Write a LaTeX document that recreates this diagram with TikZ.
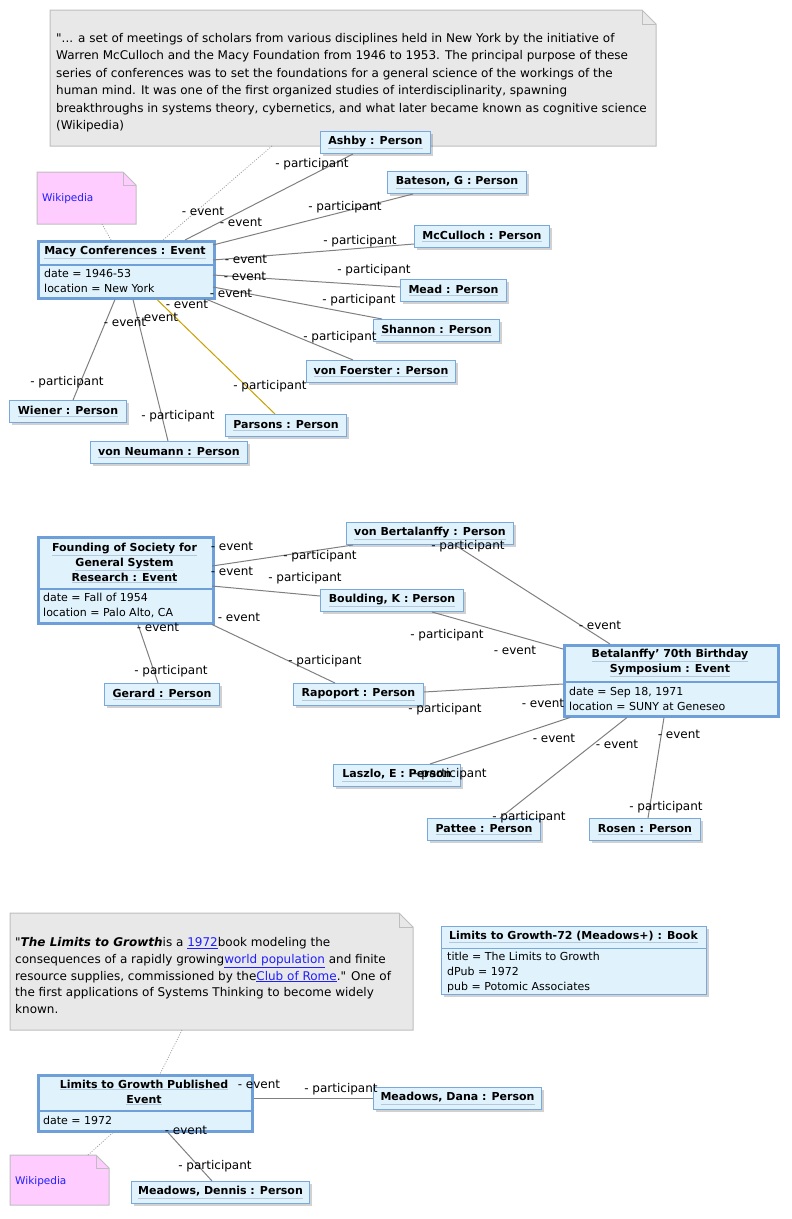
\documentclass[tikz,border=0pt]{standalone}
\usepackage{fontspec}
\setmainfont{DejaVu Sans}
\usetikzlibrary{shadows,calc}
\definecolor{pfill}{HTML}{E0F2FC}
\definecolor{pborder}{HTML}{78A8DC}
\definecolor{eborder}{HTML}{6E9FD8}
\definecolor{notefill}{HTML}{E8E8E8}
\definecolor{noteborder}{HTML}{BEBEBE}
\definecolor{wikifill}{HTML}{FFCCFF}
\definecolor{linkblue}{HTML}{1E1EFF}
\definecolor{conncol}{HTML}{808080}
\definecolor{goldcol}{HTML}{C9A000}
\definecolor{dotcol}{HTML}{A0A0A0}
\definecolor{ulcol}{HTML}{B4C8DC}
\newcommand\lnk[1]{\textcolor{linkblue}{\underline{#1}}}
\newcommand\ul[1]{\textcolor{ulcol}{\underline{\textcolor{black}{#1}}}}
\newcommand\lb[4]{\node[lbl,anchor=base] (#1) at (#2,#3+4.5) {#4};}
\newcommand\atl[4]{\node[attr,anchor=base west] (#1) at (#2,#3+4) {#4};}
\newcommand\ntl[4]{\node[notetext,anchor=base west] (#1) at (#2,#3) {#4};}
\newcommand\foldnote[3]{%
  \filldraw[draw=noteborder, fill=#2, line width=1pt] (#1.north west) -- ([xshift=-#3]#1.north east) -- ([yshift=-#3]#1.north east) -- (#1.south east) -- (#1.south west) -- cycle;
  \draw[noteborder, line width=1pt] ([xshift=-#3]#1.north east) |- ([yshift=-#3]#1.north east);}
\tikzset{
  shad/.style={drop shadow={shadow xshift=2pt,shadow yshift=-2pt,fill=black,opacity=0.18}},
  person/.style={draw=pborder, fill=pfill, line width=1pt, anchor=north west, minimum height=22pt, inner sep=0pt, font=\fontsize{11}{13}\selectfont\bfseries, shad},
  eventbox/.style={draw=eborder, fill=pfill, line width=2.5pt, anchor=north west, inner sep=0pt, shad},
  bookbox/.style={draw=pborder, fill=pfill, line width=1pt, anchor=north west, inner sep=0pt, shad},
  divider/.style={draw=eborder, line width=2.5pt},
  thindivider/.style={draw=pborder, line width=1pt},
  hdr/.style={font=\fontsize{11}{15}\selectfont\bfseries, align=center, inner sep=0pt},
  attr/.style={font=\fontsize{11}{13}\selectfont, inner sep=0pt},
  lbl/.style={font=\fontsize{12}{14}\selectfont, inner sep=0pt},
  conn/.style={draw=conncol, line width=1pt},
  goldconn/.style={draw=goldcol, line width=1pt},
  noteline/.style={draw=dotcol, line width=0.8pt, dash pattern=on 1pt off 1.5pt},
  notebody/.style={anchor=north west, inner sep=0pt, outer sep=0pt},
  notetext/.style={font=\fontsize{12}{14}\selectfont, inner sep=0pt},
  wikitext/.style={font=\fontsize{10.5}{12}\selectfont, text=linkblue, inner sep=0pt, anchor=west},
}
\begin{document}
\begin{tikzpicture}[x=1pt,y=-1pt]
\useasboundingbox (0,0) rectangle (792,1219);
\fill[white] (0,0) rectangle (792,1219);

% ---------- notes ----------
\node[notebody, minimum width=606pt, minimum height=136pt] (note1) at (50,10) {};
\foldnote{note1}{notefill}{14pt}
\ntl{n1l1}{56}{42.5}{\textquotedbl... a set of meetings of scholars from various disciplines held in New York by the initiative of}
\ntl{n1l2}{56}{59.9}{Warren McCulloch and the Macy Foundation from 1946 to 1953. The principal purpose of these}
\ntl{n1l3}{56}{77.3}{series of conferences was to set the foundations for a general science of the workings of the}
\ntl{n1l4}{56}{94.7}{human mind. It was one of the first organized studies of interdisciplinarity, spawning}
\ntl{n1l5}{56}{112.1}{breakthroughs in systems theory, cybernetics, and what later became known as cognitive science}
\ntl{n1l6}{56}{129.5}{(Wikipedia)}

\node[notebody, minimum width=99pt, minimum height=52pt] (wiki1) at (37,172) {};
\foldnote{wiki1}{wikifill}{13pt}
\node[wikitext] (wiki1t) at (42,199) {Wikipedia};

\node[notebody, minimum width=403pt, minimum height=117pt] (note2) at (10,913) {};
\foldnote{note2}{notefill}{14pt}
\ntl{n2l1}{15}{946.5}{\textquotedbl\textbf{\textit{The Limits to Growth}}is a \lnk{1972}book modeling the}
\ntl{n2l2}{15}{963.3}{consequences of a rapidly growing\lnk{world population} and finite}
\ntl{n2l3}{15}{980.1}{resource supplies, commissioned by the\lnk{Club of Rome}.\textquotedbl{} One of}
\ntl{n2l4}{15}{996.9}{the first applications of Systems Thinking to become widely}
\ntl{n2l5}{15}{1013.7}{known.}

\node[notebody, minimum width=99pt, minimum height=50pt] (wiki2) at (10,1155) {};
\foldnote{wiki2}{wikifill}{13pt}
\node[wikitext] (wiki2t) at (15,1182) {Wikipedia};

% ---------- event boxes ----------
\node[eventbox, minimum width=176pt, minimum height=57pt] (macy) at (37,240) {};
\draw[divider] ([shift={(0,25)}]macy.north west) -- ([shift={(0,25)}]macy.north east);
\node[hdr] (macyh) at ([shift={(88,12.5)}]macy.north west) {\ul{Macy Conferences : Event}};
\atl{ma1}{44}{273}{date = 1946-53}
\atl{ma2}{44}{288}{location = New York}

\node[eventbox, minimum width=175pt, minimum height=86pt] (found) at (37,536) {};
\draw[divider] ([shift={(0,53)}]found.north west) -- ([shift={(0,53)}]found.north east);
\node[hdr] (foundh) at ([shift={(87.5,27)}]found.north west) {\ul{Founding of Society for}\\\ul{General System}\\\ul{Research : Event}};
\atl{fa1}{43}{597}{date = Fall of 1954}
\atl{fa2}{43}{612}{location = Palo Alto, CA}

\node[eventbox, minimum width=214pt, minimum height=71pt] (sympo) at (563,644) {};
\draw[divider] ([shift={(0,38)}]sympo.north west) -- ([shift={(0,38)}]sympo.north east);
\node[hdr] (sympoh) at ([shift={(107,19)}]sympo.north west) {\ul{Betalanffy' 70th Birthday}\\\ul{Symposium : Event}};
\atl{sa1}{569}{691}{date = Sep 18, 1971}
\atl{sa2}{569}{706}{location = SUNY at Geneseo}

\node[eventbox, minimum width=214pt, minimum height=56pt] (ltgp) at (37,1074) {};
\draw[divider] ([shift={(0,37)}]ltgp.north west) -- ([shift={(0,37)}]ltgp.north east);
\node[hdr] (ltgph) at ([shift={(107,18.5)}]ltgp.north west) {\ul{Limits to Growth Published}\\\ul{Event}};
\atl{la1}{43}{1120}{date = 1972}

\node[bookbox, minimum width=265pt, minimum height=68pt] (book) at (441,926) {};
\draw[thindivider] ([shift={(0,22)}]book.north west) -- ([shift={(0,22)}]book.north east);
\node[hdr] (bookh) at ([shift={(132.5,11)}]book.north west) {\ul{Limits to Growth-72 (Meadows+) : Book}};
\atl{ba1}{447}{956}{title = The Limits to Growth}
\atl{ba2}{447}{971}{dPub = 1972}
\atl{ba3}{447}{986}{pub = Potomic Associates}

% ---------- persons ----------
\node[person, minimum width=110pt] (ashby) at (320,131) {\ul{Ashby : Person}};
\node[person, minimum width=139pt] (bateson) at (387,171) {\ul{Bateson, G : Person}};
\node[person, minimum width=135pt] (mcculloch) at (414,225) {\ul{McCulloch : Person}};
\node[person, minimum width=106pt] (mead) at (400,279) {\ul{Mead : Person}};
\node[person, minimum width=126pt] (shannon) at (373,319) {\ul{Shannon : Person}};
\node[person, minimum width=149pt] (foerster) at (306,360) {\ul{von Foerster : Person}};
\node[person, minimum width=121pt] (parsons) at (225,414) {\ul{Parsons : Person}};
\node[person, minimum width=157pt] (neumann) at (90,441) {\ul{von Neumann : Person}};
\node[person, minimum width=117pt] (wiener) at (9,400) {\ul{Wiener : Person}};
\node[person, minimum width=167pt] (bertal) at (346,522) {\ul{von Bertalanffy : Person}};
\node[person, minimum width=143pt] (boulding) at (320,589) {\ul{Boulding, K : Person}};
\node[person, minimum width=115pt] (gerard) at (104,683) {\ul{Gerard : Person}};
\node[person, minimum width=130pt] (rapoport) at (293,683) {\ul{Rapoport : Person}};
\node[person, minimum width=127pt] (laszlo) at (333,764) {\ul{Laszlo, E : Person}};
\node[person, minimum width=113pt] (pattee) at (427,818) {\ul{Pattee : Person}};
\node[person, minimum width=111pt] (rosen) at (589,818) {\ul{Rosen : Person}};
\node[person, minimum width=168pt] (dana) at (373,1087) {\ul{Meadows, Dana : Person}};
\node[person, minimum width=178pt] (dennis) at (131,1181) {\ul{Meadows, Dennis : Person}};

% ---------- connectors ----------
\draw[noteline] ([shift={(222,0)}]note1.south west) -- ([shift={(126,0)}]macy.north west);
\draw[noteline] ([shift={(65,0)}]wiki1.south west) -- ([shift={(74,0)}]macy.north west);
\draw[conn] ([shift={(148,0)}]macy.north west) -- ([shift={(33,0)}]ashby.south west);
\draw[conn] ([shift={(176,5)}]macy.north west) -- ([shift={(26,0)}]bateson.south west);
\draw[conn] ([shift={(176,20)}]macy.north west) -- ([shift={(0,19)}]mcculloch.north west);
\draw[conn] ([shift={(176,35)}]macy.north west) -- ([shift={(0,8)}]mead.north west);
\draw[conn] ([shift={(176,47)}]macy.north west) -- ([shift={(9,0)}]shannon.north west);
\draw[conn] ([shift={(170,0)}]macy.south west) -- ([shift={(47,0)}]foerster.north west);
\draw[goldconn] ([shift={(120,0)}]macy.south west) -- ([shift={(50,0)}]parsons.north west);
\draw[conn] ([shift={(96,0)}]macy.south west) -- ([shift={(78,0)}]neumann.north west);
\draw[conn] ([shift={(78,0)}]macy.south west) -- ([shift={(64,0)}]wiener.north west);

\draw[conn] ([shift={(175,30)}]found.north west) -- ([shift={(7,0)}]bertal.south west);
\draw[conn] ([shift={(175,50)}]found.north west) -- ([shift={(0,7)}]boulding.north west);
\draw[conn] ([shift={(175,0)}]found.south west) -- ([shift={(42,0)}]rapoport.north west);
\draw[conn] ([shift={(101,0)}]found.south west) -- ([shift={(54,0)}]gerard.north west);
\draw[conn] ([shift={(109,0)}]bertal.south west) -- ([shift={(47,0)}]sympo.north west);
\draw[conn] ([shift={(112,0)}]boulding.south west) -- ([shift={(0,5)}]sympo.north west);
\draw[conn] ([shift={(0,9)}]rapoport.north east) -- ([shift={(0,40)}]sympo.north west);
\draw[conn] ([shift={(97,0)}]laszlo.north west) -- ([shift={(7,0)}]sympo.south west);
\draw[conn] ([shift={(73,0)}]pattee.north west) -- ([shift={(64,0)}]sympo.south west);
\draw[conn] ([shift={(59,0)}]rosen.north west) -- ([shift={(101,0)}]sympo.south west);

\draw[noteline] ([shift={(172,0)}]note2.south west) -- ([shift={(123,0)}]ltgp.north west);
\draw[noteline] ([shift={(78,0)}]wiki2.north west) -- ([shift={(76,0)}]ltgp.south west);
\draw[conn] ([shift={(0,24)}]ltgp.north east) -- ([shift={(0,11)}]dana.north west);
\draw[conn] ([shift={(131,0)}]ltgp.south west) -- ([shift={(81,0)}]dennis.north west);

% ---------- labels ----------
\lb{p1}{312}{163}{- participant}
\lb{p2}{345}{206}{- participant}
\lb{p3}{360}{240}{- participant}
\lb{p4}{374}{269}{- participant}
\lb{p5}{359}{299}{- participant}
\lb{p6}{340}{336}{- participant}
\lb{p7}{270}{385}{- participant}
\lb{p8}{178}{415}{- participant}
\lb{p9}{67}{381}{- participant}
\lb{e1}{203}{211}{- event}
\lb{e2}{241}{222}{- event}
\lb{e3}{246}{259}{- event}
\lb{e4}{245}{276}{- event}
\lb{e5}{231}{293}{- event}
\lb{e6}{187}{304}{- event}
\lb{e7}{157}{317}{- event}
\lb{e8}{125}{322}{- event}

\lb{e9}{232}{546}{- event}
\lb{e10}{232}{571}{- event}
\lb{e11}{239}{617}{- event}
\lb{e12}{158}{627}{- event}
\lb{e13}{600}{625}{- event}
\lb{e14}{515}{650}{- event}
\lb{e15}{543}{703}{- event}
\lb{e16}{554}{738}{- event}
\lb{e17}{617}{744}{- event}
\lb{e18}{679}{734}{- event}
\lb{p10}{320}{555}{- participant}
\lb{p11}{305}{577}{- participant}
\lb{p12}{325}{660}{- participant}
\lb{p13}{171}{670}{- participant}
\lb{p14}{468}{545}{- participant}
\lb{p15}{447}{634}{- participant}
\lb{p16}{445}{708}{- participant}
\lb{p17}{450}{773}{- participant}
\lb{p18}{529}{816}{- participant}
\lb{p19}{666}{806}{- participant}

\lb{e19}{259}{1084}{- event}
\lb{e20}{186}{1130}{- event}
\lb{p20}{341}{1088}{- participant}
\lb{p21}{215}{1165}{- participant}
\end{tikzpicture}
\end{document}
